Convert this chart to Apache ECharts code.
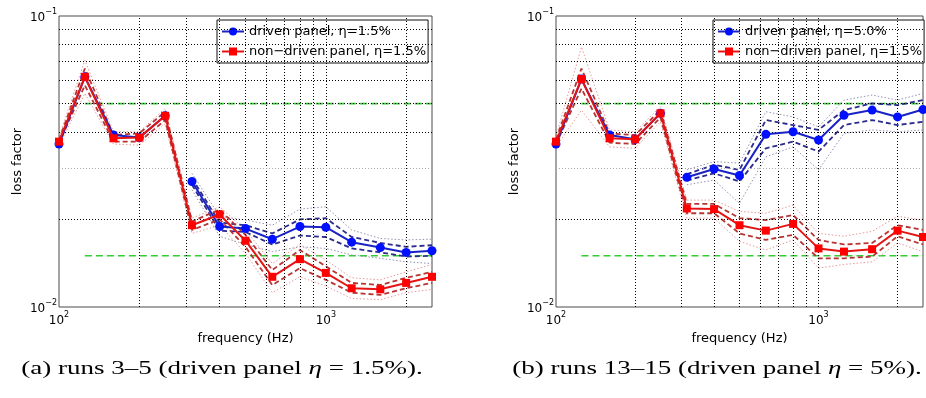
<!DOCTYPE html>
<html>
<head>
<meta charset="utf-8">
<script src="https://cdn.jsdelivr.net/npm/echarts@6/dist/echarts.min.js"></script>
<style>
  html, body { margin: 0; padding: 0; background: #fff; }
  #chart { width: 926px; height: 398px; }
</style>
</head>
<body>
<div id="chart"></div>
<script>
// 1/3-octave band centre frequencies (Hz)
const freqs = [100, 125, 160, 200, 250, 315, 400, 500, 630, 800, 1000, 1250, 1600, 2000, 2500];
const freqsLow = freqs.slice(0, 5);
const freqsHigh = freqs.slice(5);

// (a) runs 3-5
const aRed       = [0.0370, 0.0618, 0.0380, 0.0382, 0.0454, 0.0191, 0.0208, 0.0169, 0.0127, 0.0146, 0.0131, 0.0116, 0.0115, 0.0121, 0.0127];
const aRedDashHi = [0.0375, 0.0660, 0.0390, 0.0395, 0.0469, 0.0197, 0.0216, 0.0177, 0.0134, 0.0157, 0.0138, 0.0121, 0.0119, 0.0126, 0.0132];
const aRedDashLo = [0.0365, 0.0578, 0.0370, 0.0370, 0.0439, 0.0184, 0.0200, 0.0161, 0.0119, 0.0136, 0.0124, 0.0112, 0.0110, 0.0116, 0.0121];
const aRedDotHi  = [0.0383, 0.0705, 0.0400, 0.0400, 0.0481, 0.0202, 0.0221, 0.0184, 0.0141, 0.0164, 0.0145, 0.0126, 0.0124, 0.0132, 0.0140];
const aRedDotLo  = [0.0357, 0.0542, 0.0363, 0.0360, 0.0427, 0.0179, 0.0191, 0.0153, 0.0112, 0.0127, 0.0118, 0.0107, 0.0106, 0.0112, 0.0115];
const aBlueLow    = [0.0363, 0.0618, 0.0390, 0.0382, 0.0454];
const aBlue       = [0.0270, 0.0189, 0.0186, 0.0171, 0.0189, 0.0188, 0.0167, 0.0160, 0.0154, 0.0156];
const aBlueDashHi = [0.0277, 0.0195, 0.0191, 0.0179, 0.0200, 0.0202, 0.0174, 0.0166, 0.0161, 0.0163];
const aBlueDashLo = [0.0263, 0.0183, 0.0181, 0.0164, 0.0176, 0.0174, 0.0159, 0.0154, 0.0149, 0.0150];
const aBlueDotHi  = [0.0288, 0.0205, 0.0199, 0.0191, 0.0217, 0.0221, 0.0184, 0.0172, 0.0170, 0.0171];
const aBlueDotLo  = [0.0253, 0.0175, 0.0164, 0.0155, 0.0161, 0.0159, 0.0151, 0.0147, 0.0143, 0.0141];

// (b) runs 13-15
const bRed       = [0.0370, 0.0607, 0.0380, 0.0377, 0.0463, 0.0218, 0.0217, 0.0191, 0.0183, 0.0193, 0.0159, 0.0155, 0.0158, 0.0183, 0.0174];
const bRedDashHi = [0.0377, 0.0660, 0.0395, 0.0390, 0.0475, 0.0226, 0.0226, 0.0202, 0.0199, 0.0207, 0.0170, 0.0164, 0.0166, 0.0191, 0.0184];
const bRedDashLo = [0.0363, 0.0563, 0.0367, 0.0363, 0.0448, 0.0210, 0.0210, 0.0179, 0.0170, 0.0177, 0.0147, 0.0147, 0.0149, 0.0175, 0.0164];
const bRedDotHi  = [0.0385, 0.0783, 0.0406, 0.0400, 0.0488, 0.0233, 0.0233, 0.0213, 0.0210, 0.0224, 0.0179, 0.0175, 0.0182, 0.0205, 0.0199];
const bRedDotLo  = [0.0355, 0.0475, 0.0355, 0.0351, 0.0433, 0.0202, 0.0202, 0.0168, 0.0157, 0.0170, 0.0136, 0.0140, 0.0143, 0.0166, 0.0155];
const bBlueLow    = [0.0363, 0.0607, 0.0390, 0.0377, 0.0463];
const bBlue       = [0.0279, 0.0298, 0.0283, 0.0392, 0.0400, 0.0375, 0.0456, 0.0475, 0.0450, 0.0477];
const bBlueDashHi = [0.0286, 0.0308, 0.0296, 0.0439, 0.0422, 0.0406, 0.0475, 0.0501, 0.0494, 0.0514];
const bBlueDashLo = [0.0272, 0.0288, 0.0270, 0.0351, 0.0370, 0.0342, 0.0422, 0.0439, 0.0422, 0.0433];
const bBlueDotHi  = [0.0296, 0.0316, 0.0312, 0.0469, 0.0450, 0.0416, 0.0514, 0.0535, 0.0514, 0.0542];
const bBlueDotLo  = [0.0263, 0.0273, 0.0227, 0.0328, 0.0355, 0.0296, 0.0395, 0.0406, 0.0400, 0.0406];

// green reference levels, drawn from 125 Hz to 2500 Hz
const refLevels = [0.05, 0.015];
const refFreqs = [125, 2500];

// log grid lines (MATLAB style)
const xGridTicks = [200, 300, 400, 500, 600, 700, 800, 900, 1000, 2000];
const yGridTicks = [0.02, 0.03, 0.04, 0.05, 0.06, 0.07, 0.08, 0.09];

const redName = 'non\u2212driven panel, \u03b7=1.5%';
const aBlueName = 'driven panel, \u03b7=1.5%';
const bBlueName = 'driven panel, \u03b7=5.0%';

const panels = [
  { blueName: aBlueName, blueLow: aBlueLow, blue: aBlue, blueDashHi: aBlueDashHi, blueDashLo: aBlueDashLo,
    blueDotHi: aBlueDotHi, blueDotLo: aBlueDotLo, red: aRed, redDashHi: aRedDashHi, redDashLo: aRedDashLo,
    redDotHi: aRedDotHi, redDotLo: aRedDotLo },
  { blueName: bBlueName, blueLow: bBlueLow, blue: bBlue, blueDashHi: bBlueDashHi, blueDashLo: bBlueDashLo,
    blueDotHi: bBlueDotHi, blueDotLo: bBlueDotLo, red: bRed, redDashHi: bRedDashHi, redDashLo: bRedDashLo,
    redDotHi: bRedDotHi, redDotLo: bRedDotLo }
];

const pair = (xs, ys) => xs.map((x, i) => [x, ys[i]]);

const FONT = 'DejaVu Sans';

function powLabel(v) {
  const l = Math.log10(v);
  const e = Math.round(l);
  if (Math.abs(l - e) > 1e-6) return '';
  return '{b|10}{s|' + (e < 0 ? '\u2212' + (-e) : e) + '}';
}
const supRich = {
  b: { fontSize: 12, fontFamily: FONT, color: '#000', padding: [4, 0, 0, 0] },
  s: { fontSize: 8, fontFamily: FONT, color: '#000', verticalAlign: 'top' }
};

function line(gi, name, xs, ys, color, type, width, z) {
  return {
    type: 'line', name: name, xAxisIndex: gi, yAxisIndex: gi,
    data: pair(xs, ys), symbol: 'none', silent: true, z: z,
    lineStyle: { color: color, type: type, width: width }
  };
}

const series = [];
panels.forEach((p, gi) => {
  // grid lines
  series.push({
    type: 'line', name: 'grid ' + gi, xAxisIndex: gi, yAxisIndex: gi, data: [], z: 1, silent: true,
    markLine: {
      silent: true, symbol: ['none', 'none'], label: { show: false }, animation: false,
      lineStyle: { color: '#000', type: [1, 2], width: 1 },
      data: xGridTicks.map(v => ({ xAxis: v }))
        .concat(yGridTicks.map(v => v === 0.03
          ? { yAxis: v, lineStyle: { color: '#aaa', type: [1, 2], width: 1 } }
          : { yAxis: v }))
    }
  });
  // green reference levels
  refLevels.forEach((lv, k) => {
    series.push(line(gi, 'reference ' + gi + '-' + k, refFreqs, refFreqs.map(() => lv), '#33cc33', [7, 4], 1.6, 2));
  });
  // dotted spread
  series.push(line(gi, 'blue spread hi ' + gi, freqsHigh, p.blueDotHi, '#9494b4', [1.5, 2], 1, 3));
  series.push(line(gi, 'blue spread lo ' + gi, freqsHigh, p.blueDotLo, '#9494b4', [1.5, 2], 1, 3));
  series.push(line(gi, 'red spread hi ' + gi, freqs, p.redDotHi, '#e89a9a', [1.5, 2], 1, 3));
  series.push(line(gi, 'red spread lo ' + gi, freqs, p.redDotLo, '#e89a9a', [1.5, 2], 1, 3));
  // dashed spread
  series.push(line(gi, 'blue dash hi ' + gi, freqsHigh, p.blueDashHi, '#2c2c8e', [5, 3], 1.8, 4));
  series.push(line(gi, 'blue dash lo ' + gi, freqsHigh, p.blueDashLo, '#2c2c8e', [5, 3], 1.8, 4));
  series.push(line(gi, 'red dash hi ' + gi, freqs, p.redDashHi, '#b83434', [5, 3], 1.8, 4));
  series.push(line(gi, 'red dash lo ' + gi, freqs, p.redDashLo, '#b83434', [5, 3], 1.8, 4));
  // main curves
  const blueStyle = {
    type: 'line', xAxisIndex: gi, yAxisIndex: gi, symbol: 'circle', symbolSize: 9, showAllSymbol: true,
    itemStyle: { color: '#0010ff' }, lineStyle: { color: '#1a22c4', width: 2 }, z: 5, silent: true
  };
  series.push(Object.assign({}, blueStyle, { name: p.blueName + ' (100\u2013250 Hz)', data: pair(freqsLow, p.blueLow) }));
  series.push(Object.assign({}, blueStyle, { name: p.blueName, data: pair(freqsHigh, p.blue) }));
  series.push({
    type: 'line', name: redName, xAxisIndex: gi, yAxisIndex: gi, data: pair(freqs, p.red),
    symbol: 'rect', symbolSize: 8, showAllSymbol: true, z: 6, silent: true,
    itemStyle: { color: '#ff0000' }, lineStyle: { color: '#e41414', width: 2 }
  });
});

const gridLefts = [59, 556];

const option = {
  animation: false,
  backgroundColor: '#fff',
  textStyle: { fontFamily: FONT },
  grid: gridLefts.map(l => ({
    left: l, top: 16, width: 373, height: 291, show: true,
    borderColor: '#4a4a4a', borderWidth: 1, backgroundColor: '#fff'
  })),
  xAxis: gridLefts.map((l, gi) => ({
    type: 'log', logBase: 10, gridIndex: gi, min: 100, max: 2500,
    name: 'frequency (Hz)', nameLocation: 'middle', nameGap: 23,
    nameTextStyle: { fontSize: 13, color: '#000', fontFamily: FONT },
    axisLine: { show: false }, axisTick: { show: false }, splitLine: { show: false },
    axisLabel: { margin: 4, formatter: powLabel, rich: supRich, color: '#000' }
  })),
  yAxis: gridLefts.map((l, gi) => ({
    type: 'log', logBase: 10, gridIndex: gi, min: 0.01, max: 0.1,
    name: 'loss factor', nameLocation: 'middle', nameGap: 35,
    nameTextStyle: { fontSize: 13, color: '#000', fontFamily: FONT },
    axisLine: { show: false }, axisTick: { show: false }, splitLine: { show: false },
    axisLabel: { margin: 2, formatter: powLabel, rich: supRich, color: '#000' }
  })),
  legend: [
    { data: [aBlueName, redName], left: 217 },
    { data: [bBlueName, redName], left: 713 }
  ].map(lg => Object.assign({
    top: 20, orient: 'vertical', padding: [5, 2, 5, 4], itemGap: 7,
    itemWidth: 22, itemHeight: 10, backgroundColor: '#fff',
    borderColor: '#111', borderWidth: 1, borderRadius: 0, selectedMode: false,
    textStyle: { fontSize: 13, color: '#000', fontFamily: FONT }
  }, lg)),
  graphic: [
    { type: 'text', x: 222, y: 369, scaleX: 1.5, silent: true,
      style: { text: '{n|(a) runs 3\u20135 (driven panel }{i|\u03b7}{n| = 1.5%).}',
        textAlign: 'center', textVerticalAlign: 'middle', fill: '#000',
        rich: { n: { fontFamily: 'Liberation Serif', fontSize: 18, color: '#000' },
                i: { fontFamily: 'Liberation Serif', fontSize: 18, fontStyle: 'italic', color: '#000' } } } },
    { type: 'text', x: 717, y: 369, scaleX: 1.5, silent: true,
      style: { text: '{n|(b) runs 13\u201315 (driven panel }{i|\u03b7}{n| = 5%).}',
        textAlign: 'center', textVerticalAlign: 'middle', fill: '#000',
        rich: { n: { fontFamily: 'Liberation Serif', fontSize: 18, color: '#000' },
                i: { fontFamily: 'Liberation Serif', fontSize: 18, fontStyle: 'italic', color: '#000' } } } }
  ],
  series: series
};

const chart = echarts.init(document.getElementById('chart'));
chart.setOption(option);
</script>
</body>
</html>
